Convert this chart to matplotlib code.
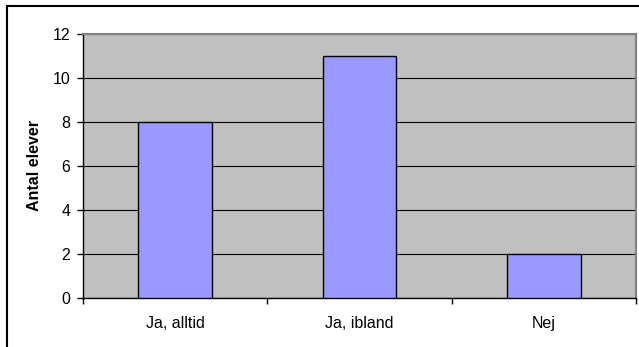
import matplotlib
matplotlib.use('Agg')
import matplotlib.pyplot as plt
from matplotlib.patches import Rectangle

categories = ['Ja, alltid', 'Ja, ibland', 'Nej']
counts = [8, 11, 2]
yticks = [0, 2, 4, 6, 8, 10, 12]

plt.rcParams['font.family'] = ['Liberation Sans', 'DejaVu Sans']
FS = 11.5

fig = plt.figure(figsize=(6.39, 3.47), dpi=100)
W, H = 639, 347

# outer chart border (runs off the right and bottom edge)
fig.patches.append(Rectangle((7 / W, -0.05), 1.0, 1 - 6 / H + 0.05,
                             transform=fig.transFigure, fill=False,
                             edgecolor='black', linewidth=1.5))

ax = fig.add_axes([83 / W, 1 - 297.5 / H, (636 - 83) / W, (297.5 - 33.5) / H])
ax.set_facecolor('#C0C0C0')

x = list(range(len(categories)))
ax.bar(x, counts, width=0.4, color='#9999FF', edgecolor='black', linewidth=1, zorder=3)

ax.set_xlim(-0.5, len(categories) - 0.5)
ax.set_ylim(0, 12)
ax.set_yticks(yticks)
ax.set_xticks(x)
ax.set_xticklabels(categories)
ax.set_xticks([i + 0.5 for i in range(-1, len(categories))], minor=True)
ax.tick_params(axis='x', which='major', length=0, pad=13, labelsize=FS)
ax.tick_params(axis='x', which='minor', length=4, direction='out', width=1)
ax.tick_params(axis='y', length=4, direction='out', width=1, labelsize=FS, pad=5)
ax.grid(axis='y', color='black', linewidth=0.8, zorder=1)
ax.set_axisbelow(True)

for side in ['top', 'right']:
    ax.spines[side].set_color('#808080')
    ax.spines[side].set_linewidth(1.5)
for side in ['left', 'bottom']:
    ax.spines[side].set_color('black')
    ax.spines[side].set_linewidth(1)

ax.set_ylabel('Antal elever', fontsize=FS, fontweight='bold', labelpad=8)

fig.savefig('out.png', dpi=100)
